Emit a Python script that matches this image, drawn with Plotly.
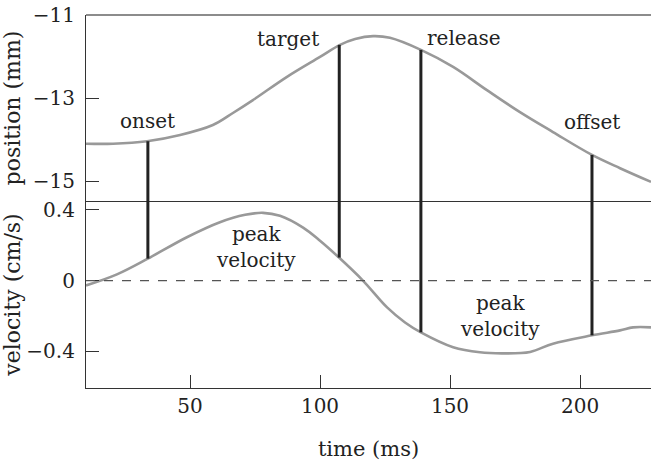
import plotly.graph_objects as go
from plotly.subplots import make_subplots

# ---- data ----
pos_t = [10, 20.4, 33.5, 46.2, 58.8, 66.5, 74.2, 87.3, 100, 107.7, 113.5, 120.4, 126.9,
         138.8, 151.2, 164.2, 176.9, 189.6, 204.6, 215.4, 227.3]
pos_mm = [-14.10, -14.10, -14.04, -13.89, -13.65, -13.36, -13.05, -12.49, -12.01, -11.72,
          -11.58, -11.51, -11.55, -11.84, -12.25, -12.81, -13.34, -13.82, -14.37, -14.69, -15.02]

vel_t = [10, 21.9, 33.8, 48.8, 61.5, 71.2, 78.1, 84.6, 93.5, 100, 107.3, 116.5, 125.8, 132.7,
         138.8, 151.2, 161.5, 170.4, 180.8, 189.6, 204.6, 215.4, 220.4, 227.3]
vel_cms = [-0.028, 0.035, 0.124, 0.245, 0.330, 0.372, 0.383, 0.366, 0.299, 0.225, 0.130, 0.0,
           -0.152, -0.237, -0.293, -0.377, -0.406, -0.412, -0.404, -0.357, -0.310, -0.282,
           -0.265, -0.265]

event_names = ["onset", "target", "release", "offset"]
event_t = [33.8, 107.4, 138.8, 204.6]
event_pos = [-14.04, -11.72, -11.84, -14.37]
event_vel = [0.124, 0.13, -0.293, -0.31]

# label positions (data coords)
pos_label_text = ["onset", "target", "release", "offset"]
pos_label_t = [33.8, 87.7, 155.2, 204.5]
pos_label_y = [-13.55, -11.58, -11.56, -13.58]
vel_label_text = ["peak<br>velocity", "peak<br>velocity"]
vel_label_t = [75.4, 169.4]
vel_label_y = [0.19, -0.2]

pos_ticks = [-11, -13, -15]
pos_ticktext = ["\u221211", "\u221213", "\u221215"]
vel_ticks = [0.4, 0, -0.4]
vel_ticktext = ["0.4", "0", "\u22120.4"]
time_ticks = [50, 100, 150, 200]
time_ticktext = ["50", "100", "150", "200"]

x_range = [10, 227.3]
pos_range = [-15.48, -11]
vel_range = [-0.608, 0.45]

FONT = "DejaVu Serif"
TXT = "#222222"
CURVE = "#999999"

fig = make_subplots(rows=2, cols=1, shared_xaxes=False, vertical_spacing=0)

fig.add_trace(go.Scatter(x=pos_t, y=pos_mm, mode="lines", line=dict(color=CURVE, width=2.6, shape="spline"),
                         hoverinfo="skip"), row=1, col=1)
fig.add_trace(go.Scatter(x=vel_t, y=vel_cms, mode="lines", line=dict(color=CURVE, width=2.6, shape="spline"),
                         hoverinfo="skip"), row=2, col=1)

# event markers: vertical lines from position curve down through to velocity curve
for t, p, v in zip(event_t, event_pos, event_vel):
    fig.add_trace(go.Scatter(x=[t, t], y=[p, pos_range[0]], mode="lines",
                             line=dict(color=TXT, width=3), hoverinfo="skip"), row=1, col=1)
    fig.add_trace(go.Scatter(x=[t, t], y=[vel_range[1], v], mode="lines",
                             line=dict(color=TXT, width=3), hoverinfo="skip"), row=2, col=1)

fig.add_hline(y=0, row=2, col=1, line=dict(color="#555555", width=1.2, dash="dash"))

# top border (lighter gray)
fig.add_shape(type="line", xref="x domain", yref="y domain", x0=0, x1=1, y0=1, y1=1,
              line=dict(color="#666666", width=1.5))

for txt, t, y in zip(pos_label_text, pos_label_t, pos_label_y):
    fig.add_annotation(x=t, y=y, xref="x", yref="y", text=txt, showarrow=False,
                       font=dict(family=FONT, size=20, color=TXT))
for txt, t, y in zip(vel_label_text, vel_label_t, vel_label_y):
    fig.add_annotation(x=t, y=y, xref="x2", yref="y2", text=txt, showarrow=False,
                       font=dict(family=FONT, size=20, color=TXT))

axis_common = dict(showgrid=False, zeroline=False, linecolor="#333333", linewidth=1.2,
                   tickcolor="#333333", tickfont=dict(family=FONT, size=20, color=TXT))

fig.update_xaxes(range=x_range, showline=True, ticks="", showticklabels=False,
                 row=1, col=1, **{k: v for k, v in axis_common.items() if k != "tickfont"})
fig.update_xaxes(range=x_range, showline=True, ticks="inside", ticklen=13, tickwidth=1.2,
                 tickvals=time_ticks, ticktext=time_ticktext,
                 title=dict(text="time (ms)", font=dict(family=FONT, size=21, color=TXT), standoff=26),
                 row=2, col=1, **axis_common)
fig.update_yaxes(range=pos_range, showline=True, ticks="inside", ticklen=13, tickwidth=1.2,
                 tickvals=pos_ticks, ticktext=pos_ticktext, ticklabelstandoff=6,
                 title=dict(text="position (mm)", font=dict(family=FONT, size=22, color=TXT), standoff=8),
                 row=1, col=1, **axis_common)
fig.update_yaxes(range=vel_range, showline=True, ticks="inside", ticklen=13, tickwidth=1.2,
                 tickvals=vel_ticks, ticktext=vel_ticktext, ticklabelstandoff=6,
                 title=dict(text="velocity (cm/s)", font=dict(family=FONT, size=22, color=TXT), standoff=8),
                 row=2, col=1, **axis_common)

split = 187 / 373
fig.update_layout(
    width=651, height=461,
    margin=dict(l=86, r=0, t=15, b=73),
    paper_bgcolor="white", plot_bgcolor="white",
    showlegend=False,
    yaxis=dict(domain=[split, 1]),
    yaxis2=dict(domain=[0, split]),
)

fig.write_html("out.html")
